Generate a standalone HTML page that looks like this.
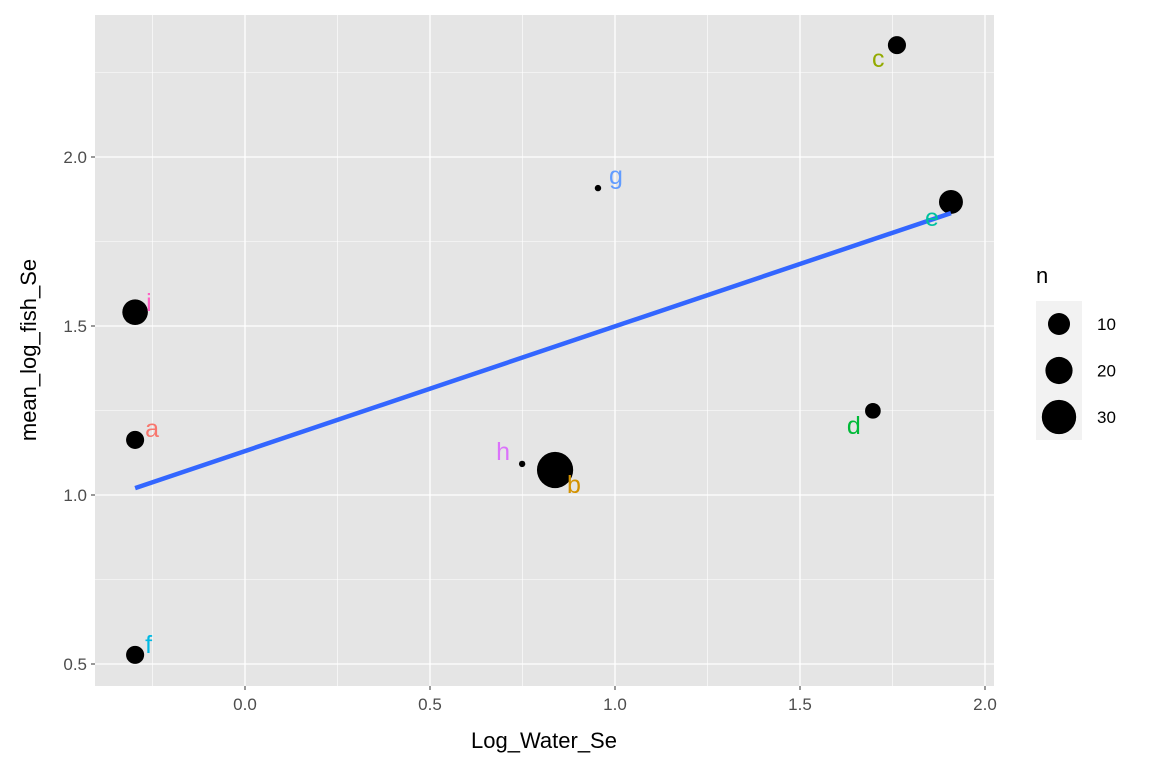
<!DOCTYPE html>
<html><head><meta charset="utf-8"><style>body{margin:0;background:#fff}svg text{font-family:"Liberation Sans",sans-serif}</style></head>
<body>
<svg id="chart" width="1152" height="768" xmlns="http://www.w3.org/2000/svg"></svg>
<script>
const labels = ["a","b","c","d","e","f","g","h","i"];
const xVals = [-0.297,0.838,1.762,1.697,1.908,-0.297,0.954,0.749,-0.297];
const yVals = [1.163,1.074,2.331,1.249,1.867,0.527,1.908,1.092,1.541];
const nVals = [8,32,8,6,14,8,1,1,16];
const colors = ["#F8766D","#D39200","#93AA00","#00BA38","#00C19F","#00B9E3","#619CFF","#DB72FB","#FF61C3"];
const labelDx = [10,12,-25,-26,-26,10,11,-26,11];
const labelDy = [-3,23,22,23,24,-2,-4,-4,-1];
const fitX = [-0.297,1.908];
const fitIntercept = [1.130];
const fitSlope = [0.369];
const xTicks = [0,0.5,1,1.5,2];
const xTickLabels = ["0.0","0.5","1.0","1.5","2.0"];
const xMinor = [-0.25,0.25,0.75,1.25,1.75];
const yTicks = [0.5,1,1.5,2];
const yTickLabels = ["0.5","1.0","1.5","2.0"];
const yMinor = [0.75,1.25,1.75,2.25];
const legendN = [10,20,30];

const svg=document.getElementById('chart');
const NS="http://www.w3.org/2000/svg";
const X=v=>245+v*370, Y=v=>495-(v-1)*338;
const R=n=>3.2*Math.sqrt(n);
function mk(t,a,p){const e=document.createElementNS(NS,t);for(const k in a)e.setAttribute(k,a[k]);(p||svg).appendChild(e);return e;}
const L=95,Rr=994,T=15,B=686;
const panel=mk('rect',{x:L,y:T,width:Rr-L,height:B-T,fill:'#E5E5E5'});


xMinor.forEach(v=>mk('line',{x1:X(v),x2:X(v),y1:T,y2:B,stroke:'#fff','stroke-width':0.6}));
yMinor.forEach(v=>mk('line',{x1:L,x2:Rr,y1:Y(v),y2:Y(v),stroke:'#fff','stroke-width':0.6}));
xTicks.forEach((v,i)=>{mk('line',{x1:X(v),x2:X(v),y1:T,y2:B,stroke:'#fff','stroke-width':1.3});
 mk('line',{x1:X(v),x2:X(v),y1:B,y2:B+4,stroke:'#333','stroke-width':1});
 const t=mk('text',{x:X(v),y:B+24,'text-anchor':'middle','font-size':17,fill:'#4D4D4D'});t.textContent=xTickLabels[i];
 
 });
yTicks.forEach((v,i)=>{mk('line',{x1:L,x2:Rr,y1:Y(v),y2:Y(v),stroke:'#fff','stroke-width':1.3});
 mk('line',{x1:L-4,x2:L,y1:Y(v),y2:Y(v),stroke:'#333','stroke-width':1});
 const t=mk('text',{x:L-8,y:Y(v)+6,'text-anchor':'end','font-size':17,fill:'#4D4D4D'});t.textContent=yTickLabels[i];
 
 });
labels.forEach((lb,i)=>{
 const c=mk('circle',{cx:X(xVals[i]),cy:Y(yVals[i]),r:R(nVals[i]),fill:'#000'});
 
 
});
const fl=mk('line',{x1:X(fitX[0]),y1:Y(fitIntercept[0]+fitSlope[0]*fitX[0]),x2:X(fitX[1]),y2:Y(fitIntercept[0]+fitSlope[0]*fitX[1]),stroke:'#3366FF','stroke-width':4.5});


labels.forEach((lb,i)=>{
 const t=mk('text',{x:X(xVals[i])+labelDx[i],y:Y(yVals[i])+labelDy[i],'font-size':25,fill:colors[i]});t.textContent=lb;
 
 
});
let t=mk('text',{x:544,y:748,'text-anchor':'middle','font-size':22,fill:'#000'});t.textContent='Log_Water_Se';


t=mk('text',{x:36,y:350,'text-anchor':'middle','font-size':22,fill:'#000',transform:'rotate(-90 36 350)'});t.textContent='mean_log_fish_Se';


t=mk('text',{x:1036,y:283,'font-size':22,fill:'#000'});t.textContent='n';


mk('rect',{x:1036,y:301,width:46,height:139,fill:'#F2F2F2'});
legendN.forEach((n,i)=>{const cy=324+i*46.5;
 const c=mk('circle',{cx:1059,cy:cy,r:R(n)*(i==0?1.0:i==1?0.95:0.98)+(i==0?0.9:0),fill:'#000'});
 
 
 const tt=mk('text',{x:1097,y:cy+6,'font-size':17,fill:'#000'});tt.textContent=n;
 
 });
</script>
</body></html>
